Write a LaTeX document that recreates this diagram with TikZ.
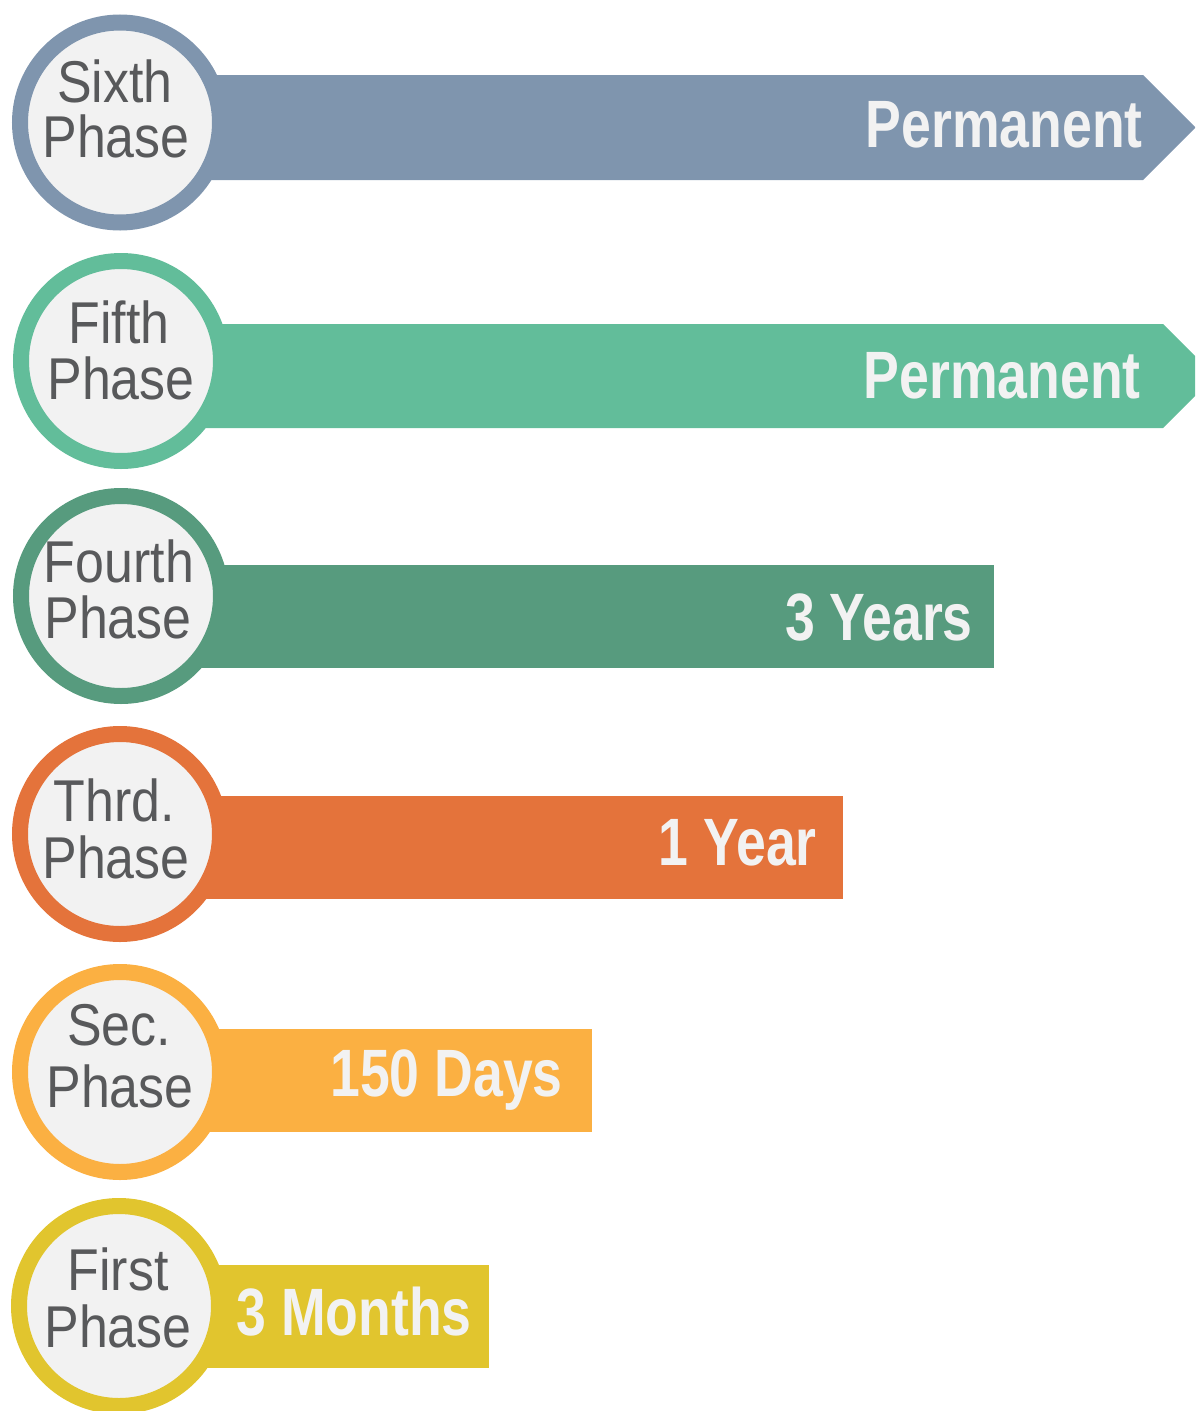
\documentclass[tikz,border=0pt]{standalone}
\usepackage{fontspec}
\setmainfont{Liberation Sans}
\newfontfamily\circfont[FakeStretch=0.88]{Liberation Sans}
\newfontfamily\barfont[FakeStretch=0.80]{Liberation Sans}
\definecolor{csixth}{HTML}{7F95AE}
\definecolor{cfifth}{HTML}{62BD9A}
\definecolor{cfourth}{HTML}{579B7E}
\definecolor{cthird}{HTML}{E4733B}
\definecolor{csec}{HTML}{FBB042}
\definecolor{cfirst}{HTML}{E1C52E}
\definecolor{darkg}{HTML}{58595B}
\definecolor{lightg}{HTML}{F2F2F2}
\tikzset{
  ring/.style={circle, minimum size=200pt, inner sep=0pt, line width=16pt, fill=lightg, draw=#1},
  ctext/.style={anchor=base, text=darkg, inner sep=0pt, text height=42pt, text depth=0pt, font=\circfont\fontsize{59}{59}\selectfont},
  btext/.style={anchor=base east, text=lightg, inner sep=0pt, font=\barfont\bfseries\fontsize{67}{67}\selectfont},
}
\begin{document}
\begin{tikzpicture}[x=1pt, y=-1pt]
\useasboundingbox (0,0) rectangle (1195,1411);
\clip (0,0) rectangle (1195,1411);
% bars
\fill[csixth] (200,75) -- (1143,75) -- (1195.5,127.5) -- (1143,180) -- (200,180) -- cycle;
\fill[cfifth] (200,324) -- (1163,324) -- (1215,376) -- (1163,428) -- (200,428) -- cycle;
\fill[cfourth] (200,565) rectangle (994,668);
\fill[cthird] (200,796) rectangle (843,899);
\fill[csec] (200,1029) rectangle (592,1132);
\fill[cfirst] (200,1265) rectangle (489,1368);
% circles
\node[ring=csixth]  (c6) at (120,122.5) {};
\node[ring=cfifth]  (c5) at (121,361) {};
\node[ring=cfourth] (c4) at (121,596) {};
\node[ring=cthird]  (c3) at (120,834) {};
\node[ring=csec]    (c2) at (120,1072) {};
\node[ring=cfirst]  (c1) at (119,1306) {};
% circle texts
\node[ctext] (t6a) at (115,102) {Sixth};
\node[ctext] (t6b) at (116,157) {Phase};
\node[ctext] (t5a) at (119,343) {Fifth};
\node[ctext] (t5b) at (121,399) {Phase};
\node[ctext] (t4a) at (119,582) {Fourth};
\node[ctext] (t4b) at (118,638) {Phase};
\node[ctext] (t3a) at (114,821) {Thrd.};
\node[ctext] (t3b) at (116,878) {Phase};
\node[ctext] (t2a) at (119,1045) {Sec.};
\node[ctext] (t2b) at (120,1107) {Phase};
\node[ctext] (t1a) at (118,1290) {First};
\node[ctext] (t1b) at (118,1347) {Phase};
% bar texts
\node[btext] (d6) at (1143,147) {Permanent};
\node[btext] (d5) at (1141,398) {Permanent};
\node[btext] (d4) at (973,640) {3 Years};
\node[btext] (d3) at (817,865) {1 Year};
\node[btext] (d2) at (563,1096) {150 Days};
\node[btext] (d1) at (472,1335) {3 Months};
\end{tikzpicture}
\end{document}
